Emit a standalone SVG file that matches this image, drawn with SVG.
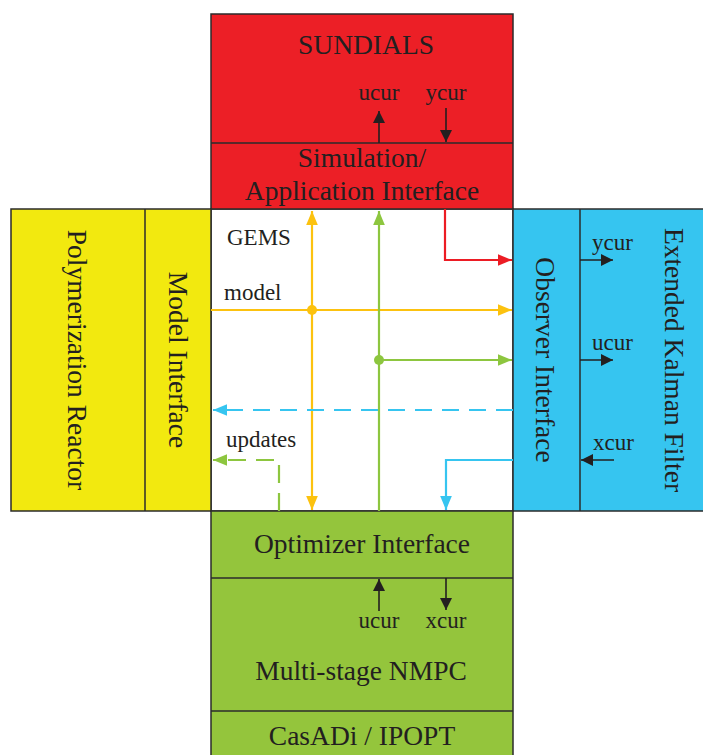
<svg xmlns="http://www.w3.org/2000/svg" width="703" height="755" viewBox="0 0 703 755">
<style>
.box{stroke:#2b2b2b;stroke-width:1.5}
.div{stroke:#2b2b2b;stroke-width:1.5;fill:none}
.big{font-family:"Liberation Serif","Times New Roman",serif;font-size:27.5px;fill:#231f20}
.sm{font-family:"Liberation Serif","Times New Roman",serif;font-size:23px;fill:#231f20}
.c{stroke-width:2.2;fill:none}
.k{stroke:#231f20;stroke-width:1.6;fill:none}
</style>
<defs>
<marker id="aY" viewBox="0 0 12 10" refX="12" refY="5" markerWidth="14" markerHeight="12" markerUnits="userSpaceOnUse" orient="auto-start-reverse"><path d="M0,0 L12,5 L0,10 z" fill="#fcc20f"/></marker>
<marker id="aG" viewBox="0 0 12 10" refX="12" refY="5" markerWidth="14" markerHeight="12" markerUnits="userSpaceOnUse" orient="auto-start-reverse"><path d="M0,0 L12,5 L0,10 z" fill="#8dc63f"/></marker>
<marker id="aR" viewBox="0 0 12 10" refX="12" refY="5" markerWidth="14" markerHeight="12" markerUnits="userSpaceOnUse" orient="auto-start-reverse"><path d="M0,0 L12,5 L0,10 z" fill="#ec1c24"/></marker>
<marker id="aB" viewBox="0 0 12 10" refX="12" refY="5" markerWidth="14" markerHeight="12" markerUnits="userSpaceOnUse" orient="auto-start-reverse"><path d="M0,0 L12,5 L0,10 z" fill="#36c5f0"/></marker>
<marker id="aK" viewBox="0 0 12 12" refX="12" refY="6" markerWidth="12" markerHeight="12" markerUnits="userSpaceOnUse" orient="auto-start-reverse"><path d="M0,0 L12,6 L0,12 z" fill="#231f20"/></marker>
</defs>
<rect width="703" height="755" fill="#ffffff"/>

<g id="center">
<rect x="211" y="209" width="302" height="302" fill="#ffffff" class="box"/>
<text class="sm" x="227" y="245">GEMS</text>
<text class="sm" x="224" y="300">model</text>
<text class="sm" x="226" y="447">updates</text>
</g>

<g id="sundials">
<rect x="211" y="14" width="302" height="195" fill="#ec1f26" class="box"/>
<line x1="211" y1="143" x2="513" y2="143" class="div"/>
<text class="big" x="366" y="54" text-anchor="middle">SUNDIALS</text>
<text class="sm" x="379" y="100" text-anchor="middle">ucur</text>
<text class="sm" x="446" y="100" text-anchor="middle">ycur</text>
<text class="big" x="362" y="167" text-anchor="middle">Simulation/</text>
<text class="big" x="362" y="200" text-anchor="middle">Application Interface</text>
<line x1="379" y1="143" x2="379" y2="111" class="k" marker-end="url(#aK)"/>
<line x1="446" y1="108" x2="446" y2="142" class="k" marker-end="url(#aK)"/>
</g>

<g id="reactor">
<rect x="11" y="209" width="200" height="302" fill="#f2e90f" class="box"/>
<line x1="145" y1="209" x2="145" y2="511" class="div"/>
<text class="big" transform="translate(68,360) rotate(90)" text-anchor="middle">Polymerization Reactor</text>
<text class="big" transform="translate(169,360) rotate(90)" text-anchor="middle">Model Interface</text>
</g>

<g id="ekf">
<rect x="513" y="209" width="200" height="302" fill="#36c5f0" class="box"/>
<line x1="580" y1="209" x2="580" y2="511" class="div"/>
<text class="big" transform="translate(536,360) rotate(90)" text-anchor="middle">Observer Interface</text>
<text class="big" transform="translate(665,360) rotate(90)" text-anchor="middle">Extended Kalman Filter</text>
<text class="sm" x="592" y="250">ycur</text>
<text class="sm" x="592" y="350">ucur</text>
<text class="sm" x="593" y="450">xcur</text>
<line x1="580" y1="260" x2="613" y2="260" class="k" marker-end="url(#aK)"/>
<line x1="580" y1="360" x2="613" y2="360" class="k" marker-end="url(#aK)"/>
<line x1="614" y1="460" x2="581" y2="460" class="k" marker-end="url(#aK)"/>
</g>

<g id="nmpc">
<rect x="211" y="511" width="302" height="260" fill="#94c53c" class="box"/>
<line x1="211" y1="578" x2="513" y2="578" class="div"/>
<line x1="211" y1="711" x2="513" y2="711" class="div"/>
<text class="big" x="362" y="553" text-anchor="middle">Optimizer Interface</text>
<text class="sm" x="379" y="628" text-anchor="middle">ucur</text>
<text class="sm" x="446" y="628" text-anchor="middle">xcur</text>
<text class="big" x="361" y="680" text-anchor="middle">Multi-stage NMPC</text>
<text class="big" x="362" y="745" text-anchor="middle">CasADi / IPOPT</text>
<line x1="379" y1="611" x2="379" y2="579" class="k" marker-end="url(#aK)"/>
<line x1="446" y1="578" x2="446" y2="610" class="k" marker-end="url(#aK)"/>
</g>

<g id="connectors">
<line x1="312" y1="211" x2="312" y2="510" class="c" stroke="#fcc20f" marker-start="url(#aY)" marker-end="url(#aY)"/>
<line x1="211" y1="310" x2="512" y2="310" class="c" stroke="#fcc20f" marker-end="url(#aY)"/>
<circle cx="312" cy="310" r="5" fill="#fcc20f"/>
<line x1="379" y1="511" x2="379" y2="211" class="c" stroke="#8dc63f" marker-end="url(#aG)"/>
<line x1="379" y1="360" x2="512" y2="360" class="c" stroke="#8dc63f" marker-end="url(#aG)"/>
<circle cx="379" cy="360" r="5" fill="#8dc63f"/>
<path d="M445,209 V260 H512" class="c" stroke="#ec1c24" marker-end="url(#aR)"/>
<line x1="513" y1="410" x2="213" y2="410" class="c" stroke="#36c5f0" stroke-dasharray="17 10" marker-end="url(#aB)"/>
<path d="M513,460 H446 V510" class="c" stroke="#36c5f0" marker-end="url(#aB)"/>
<path d="M279,511 V460 H213" class="c" stroke="#8dc63f" stroke-dasharray="18 10" marker-end="url(#aG)"/>
</g>
</svg>
